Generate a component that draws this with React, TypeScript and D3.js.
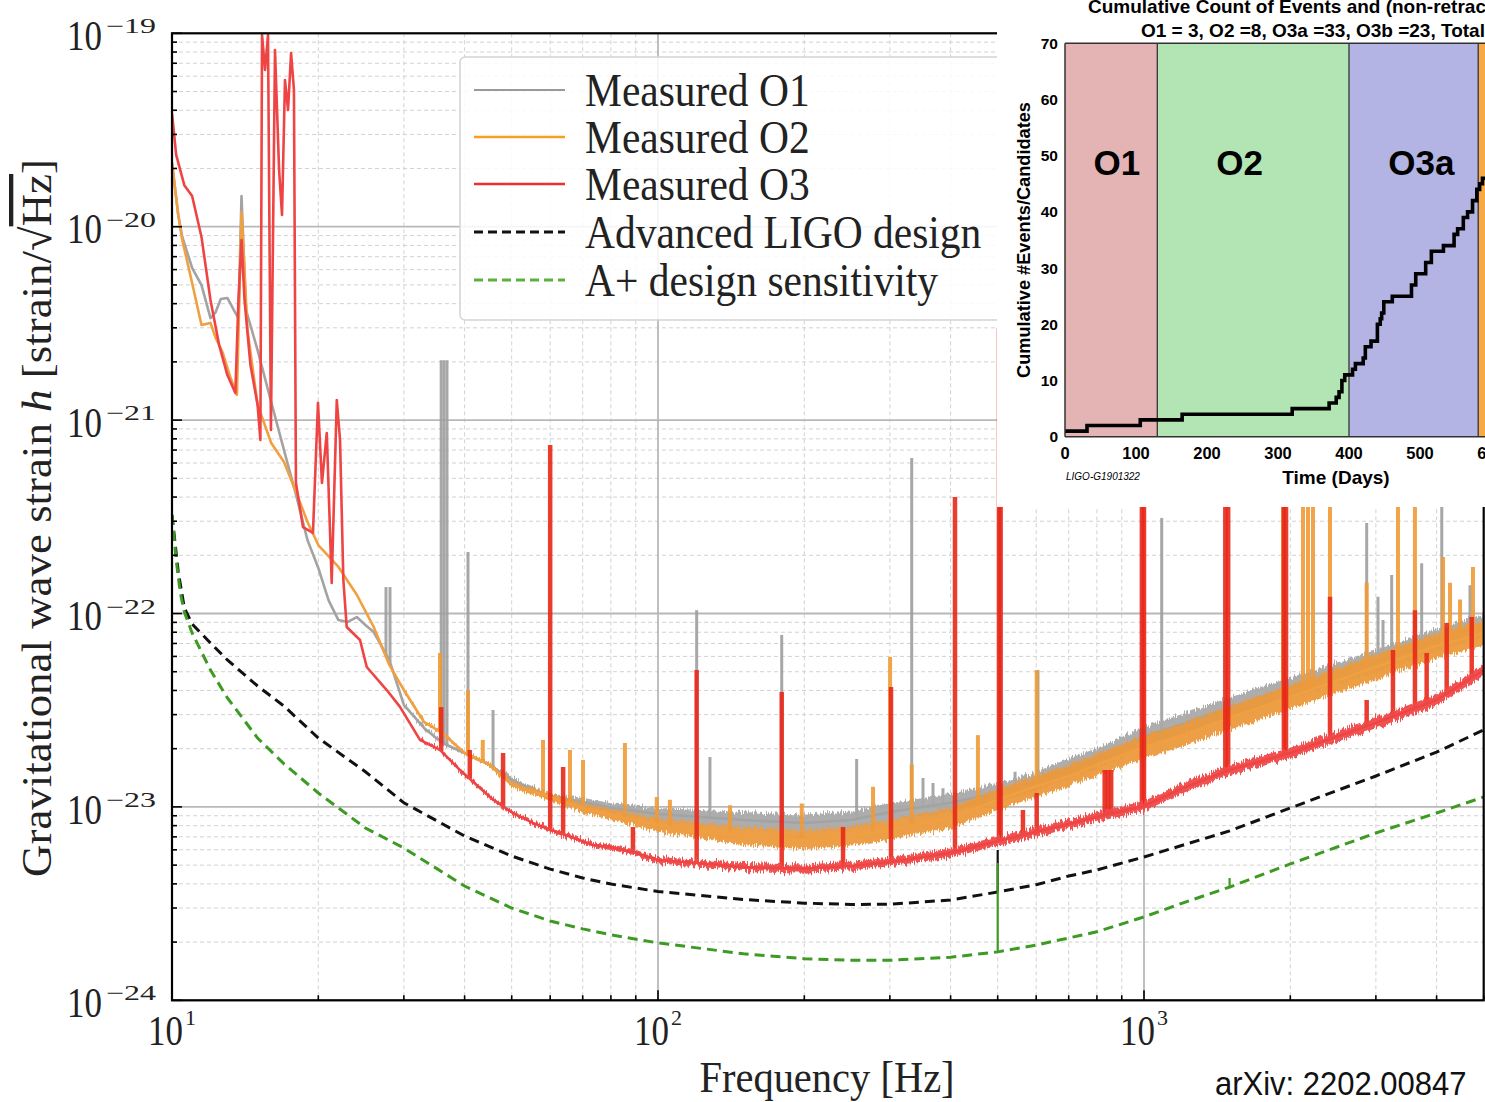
import React from 'react';
import * as d3 from 'd3';

type P = [number, number];

// ---------- main chart data: [frequency Hz, strain 1/sqrt(Hz)] ----------
const O1_BASE: P[] = [
  [10, 2.14e-20], [10.3, 1.15e-20], [10.5, 8.85e-21], [11, 6.12e-21], [11.5, 4.99e-21], [12, 3.37e-21],
  [12.3, 3.62e-21], [12.6, 4.23e-21], [13, 4.28e-21], [13.4, 3.71e-21], [13.7, 3.37e-21], [13.9, 1.44e-20],
  [14.2, 3.71e-21], [15, 2.3e-21], [16, 1.24e-21], [17, 7.0e-22], [18, 4.1e-22], [19, 2.4e-22], [20, 1.72e-22],
  [21, 1.17e-22], [22, 9.25e-23], [23, 9.04e-23], [24, 9.59e-23], [25, 8.72e-23], [26, 8.02e-23], [28, 5.75e-23],
  [30, 3.37e-23], [33, 2.56e-23], [36, 2.14e-23], [40, 1.9e-23], [45, 1.65e-23], [50, 1.38e-23], [60, 1.125e-23],
  [70, 1.06e-23], [80, 9.87e-24], [100, 9.19e-24], [150, 8.56e-24], [200, 8.26e-24], [250, 8.56e-24],
  [300, 9.41e-24], [400, 1.05e-23], [500, 1.18e-23], [600, 1.36e-23], [700, 1.59e-23], [800, 1.79e-23],
  [1000, 2.3e-23], [1200, 2.68e-23], [1500, 3.25e-23], [2000, 4.12e-23], [3000, 5.68e-23], [4000, 7.29e-23],
  [5000, 8.72e-23],
];
const O2_BASE: P[] = [
  [10, 2.14e-20], [10.3, 1.15e-20], [10.5, 8.54e-21], [11, 5.12e-21], [11.5, 3.1e-21], [12, 3.18e-21],
  [12.3, 2.66e-21], [12.7, 2.25e-21], [13.2, 1.65e-21], [13.6, 1.35e-21], [13.9, 1.19e-20], [14.3, 2.92e-21],
  [15, 1.2e-21], [16, 7.61e-22], [17, 6.07e-22], [18, 4.25e-22], [19, 2.97e-22], [20, 2.26e-22], [22, 1.74e-22],
  [24, 1.25e-22], [26, 8.52e-23], [28, 5.42e-23], [30, 4.02e-23], [33, 2.75e-23], [36, 2.41e-23], [40, 1.9e-23],
  [45, 1.65e-23], [50, 1.3e-23], [60, 1.125e-23], [70, 9.87e-24], [80, 9.08e-24], [100, 8.06e-24],
  [150, 7.07e-24], [200, 6.74e-24], [250, 7.07e-24], [300, 7.6e-24], [400, 8.76e-24], [500, 1.09e-23],
  [600, 1.28e-23], [700, 1.44e-23], [800, 1.65e-23], [1000, 2.04e-23], [1200, 2.35e-23], [1500, 2.88e-23],
  [2000, 3.7e-23], [3000, 5.29e-23], [4000, 6.79e-23], [5000, 7.93e-23],
];
const O3_BASE: P[] = [
  [10, 3.87e-20], [10.2, 2.35e-20], [10.6, 1.64e-20], [11, 1.44e-20], [11.5, 8.85e-21], [12, 4.18e-21],
  [12.5, 2.45e-21], [13, 1.71e-21], [13.5, 1.38e-21], [13.7, 4.18e-21], [13.9, 8.54e-21], [14.1, 4.18e-21],
  [14.5, 1.93e-21], [15, 1.2e-21], [15.2, 7.89e-22], [15.32, 9.8e-20], [15.54, 6.46e-20], [15.76, 9.8e-20],
  [15.98, 8.89e-22], [16.29, 8.2e-20], [16.61, 1.96e-20], [16.84, 1.15e-20], [17.08, 5.73e-20], [17.33, 4.01e-20],
  [17.58, 7.91e-20], [17.82, 5.09e-20], [17.99, 4.73e-22], [18.6, 2.8e-22], [19.5, 2.61e-22], [19.97, 1.23e-21],
  [20.35, 4.73e-22], [20.82, 8.58e-22], [21.31, 1.44e-22], [21.83, 1.27e-21], [22.17, 7.89e-22], [22.52, 1.49e-22],
  [22.88, 8.52e-23], [24.37, 7.29e-23], [25.16, 5.29e-23], [27.66, 4.02e-23], [29.45, 3.29e-23], [32.38, 2.22e-23],
  [35.6, 1.97e-23], [39.14, 1.55e-23], [45.77, 1.09e-23], [50.3, 9.3e-24], [55.3, 8.26e-24], [58, 7.87e-24],
  [62.9, 7.33e-24], [73.5, 6.35e-24], [79.6, 6.2e-24], [88.8, 5.85e-24], [100, 5.31e-24], [120, 5.13e-24],
  [150, 4.89e-24], [200, 4.8e-24], [250, 4.95e-24], [300, 5.19e-24], [400, 5.78e-24], [500, 6.66e-24],
  [600, 7.42e-24], [700, 8.16e-24], [800, 8.87e-24], [1000, 1.01e-23], [1200, 1.25e-23], [1500, 1.55e-23],
  [2000, 1.9e-23], [3000, 2.72e-23], [4000, 3.57e-23], [5000, 5.1e-23],
];
// narrow lines: [frequency, peak strain]
const O1_SPIKES: P[] = [
  [27.56, 1.37e-22], [28.09, 1.37e-22], [35.8, 2.04e-21], [36.28, 2.04e-21], [36.8, 2.04e-21], [40.65, 2.08e-22],
  [45.77, 3.17e-23], [120.1, 1.04e-22], [127.9, 1.81e-23], [179.7, 7.74e-23], [256.3, 1.77e-23], [332.7, 6.37e-22],
  [351, 1.41e-23], [368, 1.33e-23], [385.8, 1.25e-23], [542.8, 1.52e-23], [605.2, 5.1e-23], [1087.5, 3.12e-22],
  [2872, 2.94e-22], [3030, 1.22e-22], [3103, 9.26e-23], [3233, 1.58e-22], [3727, 1.82e-22], [4099, 1e-21],
  [4686, 1.4e-22],
];
const O2_SPIKES: P[] = [
  [35.6, 6.25e-23], [40.65, 4.02e-23], [43.6, 2.22e-23], [58, 2.22e-23], [65.9, 1.97e-23], [70.1, 1.75e-23],
  [85.5, 2.14e-23], [99.4, 1.125e-23], [105.8, 1.09e-23], [140.7, 1.02e-23], [197.6, 1.04e-23], [277, 1.27e-23],
  [300.3, 5.96e-23], [332.7, 1.65e-23], [455.3, 2.35e-23], [601.5, 5.1e-23], [1932, 3e-21], [2124, 3e-21],
  [2175, 3e-21], [2227, 3e-21], [2414, 3e-21], [2872, 1.44e-22], [3331, 3e-21], [3610, 3e-21], [4124, 1.96e-22],
  [4263, 1.44e-22], [4470, 1.18e-22], [4753, 1.74e-22],
];
const O3_SPIKES: P[] = [
  [35.8, 3.28e-23], [41, 1.97e-23], [48, 1.9e-23], [60, 7.43e-22], [63.8, 1.61e-23], [88.8, 7.87e-24],
  [120.1, 5.1e-23], [179.7, 3.93e-23], [240.3, 7.87e-24], [301.6, 4.17e-23], [408.4, 4.0e-22], [503, 3e-21],
  [507, 3e-21], [563.6, 9.64e-24], [601.5, 1.18e-23], [830, 1.55e-23], [843.3, 1.55e-23], [856, 1.55e-23],
  [990, 3e-21], [1000, 3e-21], [1470, 3e-21], [1490, 3e-21], [1940, 3e-21], [1960, 3e-21], [2414, 1.22e-22],
  [2872, 3.57e-23], [3253, 6.48e-23], [3610, 1.04e-22], [3816, 6.25e-23], [4196, 8.93e-23], [4724, 9.59e-23],
];
const ALIGO: P[] = [
  [10, 3.23e-22], [10.3, 1.64e-22], [10.6, 1.07e-22], [11, 8.82e-23], [12, 7.04e-23], [13, 5.75e-23],
  [15, 4.22e-23], [17, 3.32e-23], [20, 2.27e-23], [25, 1.52e-23], [30, 1.05e-23], [40, 7.07e-24], [50, 5.57e-24],
  [60, 4.77e-24], [70, 4.29e-24], [80, 3.99e-24], [100, 3.65e-24], [150, 3.32e-24], [200, 3.18e-24],
  [250, 3.13e-24], [300, 3.14e-24], [400, 3.3e-24], [500, 3.63e-24], [600, 3.96e-24], [700, 4.39e-24],
  [800, 4.72e-24], [1000, 5.51e-24], [1500, 7.51e-24], [2000, 9.87e-24], [3000, 1.445e-23], [4000, 1.92e-23],
  [5000, 2.5e-23],
];
const ALIGO_SPIKES: P[] = [[500, 5.98e-24]];
const APLUS: P[] = [
  [10, 3.23e-22], [10.2, 1.89e-22], [10.4, 1.28e-22], [10.6, 1.02e-22], [11, 7.93e-23], [12, 5.1e-23],
  [13, 3.66e-23], [15, 2.27e-23], [17, 1.67e-23], [20, 1.18e-23], [25, 7.78e-24], [30, 6.13e-24], [40, 3.9e-24],
  [50, 3.0e-24], [60, 2.57e-24], [70, 2.34e-24], [80, 2.18e-24], [100, 1.98e-24], [150, 1.74e-24],
  [200, 1.64e-24], [250, 1.61e-24], [300, 1.61e-24], [400, 1.67e-24], [500, 1.78e-24], [600, 1.93e-24],
  [700, 2.1e-24], [800, 2.26e-24], [1000, 2.7e-24], [1200, 3.18e-24], [1500, 3.85e-24], [2000, 5.07e-24],
  [3000, 7.33e-24], [4000, 9.3e-24], [5000, 1.125e-23],
];
const APLUS_SPIKES: P[] = [[500, 5.13e-24], [1500, 4.29e-24]];

const LEGEND_LABELS = ['Measured O1', 'Measured O2', 'Measured O3', 'Advanced LIGO design', 'A+ design sensitivity'];
const X_DECADE_EXP = [1, 2, 3];
const Y_DECADE_EXP = [-19, -20, -21, -22, -23, -24];

// ---------- inset data ----------
const EVENT_DAYS = [0, 31, 106, 165, 320, 372, 382, 386, 390, 394, 405, 409, 420, 423, 431, 440, 444, 446, 449, 461, 488, 494, 508, 516, 533, 548, 553, 561, 567, 574, 580, 584, 588, 592];
const EVENT_COUNTS = [1, 2, 3, 4, 5, 6, 7, 8, 10, 11, 12, 13, 14, 16, 17, 20, 21, 22, 24, 25, 27, 29, 31, 33, 34, 36, 37, 39, 40, 42, 44, 45, 46, 46];
const RUN_NAMES = ['O1', 'O2', 'O3a', 'O3b'];
const RUN_START = [0, 130, 400, 582];
const RUN_END = [130, 400, 582, 700];
const RUN_LABEL_DAY = [73, 246, 502];
const INSET_X_TICKS = [0, 100, 200, 300, 400, 500, 600];
const INSET_Y_TICKS = [0, 10, 20, 30, 40, 50, 60, 70];
const INSET_TITLE_1 = 'Cumulative Count of Events and (non-retracted) Candidates';
const INSET_TITLE_2 = 'O1 = 3, O2 =8, O3a =33, O3b =23, Total =67';

const RUN_COLORS = ['#e4b3b3', '#b3e4b3', '#b3b3e4', '#f6a945'];

const SERIF = '"Liberation Serif", "Times New Roman", serif';
const SANS = '"Liberation Sans", Arial, sans-serif';

function interpLogLog(series: P[], f: number): number {
  const i = d3.bisector((d: P) => d[0]).right(series, f);
  if (i <= 0) return series[0][1];
  if (i >= series.length) return series[series.length - 1][1];
  const [f0, h0] = series[i - 1];
  const [f1, h1] = series[i];
  const t = (Math.log(f) - Math.log(f0)) / (Math.log(f1) - Math.log(f0));
  return Math.exp(Math.log(h0) + t * (Math.log(h1) - Math.log(h0)));
}

function bandWidth(f: number, w0: number, w1: number, w2: number) {
  const lf = Math.log10(f);
  const a = Math.log10(40), b = Math.log10(150), c = Math.log10(3000);
  if (lf <= a) return w0;
  if (lf <= b) return w0 + ((w1 - w0) * (lf - a)) / (b - a);
  return w1 + (w2 - w1) * Math.min(1, (lf - b) / (c - b));
}

export default function App() {
  const L = 172, R = 1483.7, T = 33.3, B = 1000.3;
  const x = d3.scaleLog().domain([10, 5000]).range([L, R]);
  const y = d3.scaleLog().domain([1e-24, 1e-19]).range([B, T]);

  const xt = x.ticks();
  const yt = y.ticks();
  const isDecade = (v: number) => Math.abs(Math.log10(v) - Math.round(Math.log10(v))) < 1e-6;

  const line = d3.line<P>().x((d) => x(d[0])).y((d) => y(d[1]));

  const measured = [
    { base: O1_BASE, spikes: O1_SPIKES, line: '#a3a3a3', band: '#a9a9a9', spike: '#9d9d9d', w: [2.6, 16, 22], sw: 3 },
    { base: O2_BASE, spikes: O2_SPIKES, line: '#f0a040', band: '#ec9a3c', spike: '#f09a35', w: [2.6, 18, 25], sw: 4 },
    { base: O3_BASE, spikes: O3_SPIKES, line: '#ef4444', band: '#f04848', spike: '#e8281a', w: [2.6, 8, 11], sw: 4.5 },
  ];

  const ix = d3.scaleLinear().domain([0, 600]).range([1065, 1491]);
  const iy = d3.scaleLinear().domain([0, 70]).range([436.7, 43.3]);
  const stepLine = d3
    .line<number>()
    .x((_, i) => ix(EVENT_DAYS[i]))
    .y((d) => iy(d))
    .curve(d3.curveStepAfter);

  const legendRows = [90, 137, 184, 232, 280];
  const legendStyles = [
    { stroke: '#9a9a9a', dash: undefined, w: 2.2 },
    { stroke: '#f5a020', dash: undefined, w: 2.4 },
    { stroke: '#ee3030', dash: undefined, w: 2.6 },
    { stroke: '#111', dash: '9,5', w: 3 },
    { stroke: '#5cb040', dash: '9,5', w: 3 },
  ];

  return (
    <div style={{ position: 'absolute', left: 0, top: 0, width: 1485, height: 1102 }}>
      <svg width={1485} height={1102} style={{ display: 'block', background: '#fff' }}>
        <defs>
          <clipPath id="plotClip">
            <rect x={L} y={T} width={R - L} height={B - T} />
          </clipPath>
          <clipPath id="insetClip">
            <rect x={1065} y={43.3} width={430} height={436.7 - 43.3} />
          </clipPath>
          <filter id="jag" filterUnits="userSpaceOnUse" x={0} y={0} width={1485} height={1102}>
            <feTurbulence type="fractalNoise" baseFrequency="0.9 0.02" numOctaves={2} seed={5} result="n" />
            <feColorMatrix
              in="n"
              type="matrix"
              values="0 0 0 0 0.5  0 1 0 0 0  0 0 1 0 0  0 0 0 0 1"
              result="m"
            />
            <feDisplacementMap in="SourceGraphic" in2="m" scale={11} xChannelSelector="R" yChannelSelector="G" />
          </filter>
        </defs>

        {/* grid */}
        <g>
          {xt.filter((v) => !isDecade(v) && v < 5000).map((v, i) => (
            <line key={'gx' + i} x1={x(v)} x2={x(v)} y1={T} y2={B} stroke="#d2d2d2" strokeWidth={1} strokeDasharray="4,3" />
          ))}
          {yt.filter((v) => !isDecade(v)).map((v, i) => (
            <line key={'gy' + i} x1={L} x2={R} y1={y(v)} y2={y(v)} stroke="#d2d2d2" strokeWidth={1} strokeDasharray="4,3" />
          ))}
          {xt.filter((v) => isDecade(v) && v > 10).map((v, i) => (
            <line key={'Gx' + i} x1={x(v)} x2={x(v)} y1={T} y2={B} stroke="#b8b8b8" strokeWidth={1.8} />
          ))}
          {yt.filter((v) => isDecade(v) && v < 1e-19 && v > 1e-24).map((v, i) => (
            <line key={'Gy' + i} x1={L} x2={R} y1={y(v)} y2={y(v)} stroke="#b8b8b8" strokeWidth={1.8} />
          ))}
        </g>

        {/* measured curves */}
        <g clipPath="url(#plotClip)">
          {measured.map((s, k) => {
            const bandPts = s.base.filter((d) => d[0] >= 30);
            const area = d3
              .area<P>()
              .x((d) => x(d[0]))
              .y0((d) => y(d[1]) + bandWidth(d[0], s.w[0], s.w[1], s.w[2]) / 2)
              .y1((d) => y(d[1]) - bandWidth(d[0], s.w[0], s.w[1], s.w[2]) / 2)(bandPts) as string;
            return (
              <g key={'m' + k}>
                {s.spikes.map((sp, j) => (
                  <line
                    key={j}
                    x1={x(sp[0])}
                    x2={x(sp[0])}
                    y1={y(interpLogLog(s.base, sp[0]))}
                    y2={y(sp[1])}
                    stroke={s.spike}
                    strokeWidth={s.sw}
                    strokeOpacity={0.9}
                  />
                ))}
                <path d={area} fill={s.band} filter="url(#jag)" opacity={0.95} />
                <path d={line(s.base) as string} fill="none" stroke={s.line} strokeWidth={2.6} strokeLinejoin="round" />
              </g>
            );
          })}
          {/* design curves */}
          {ALIGO_SPIKES.map((sp, j) => (
            <line key={'as' + j} x1={x(sp[0])} x2={x(sp[0])} y1={y(interpLogLog(ALIGO, sp[0]))} y2={y(sp[1])} stroke="#111" strokeWidth={2.2} />
          ))}
          <path d={line(ALIGO) as string} fill="none" stroke="#111" strokeWidth={3} strokeDasharray="10,6" />
          {APLUS_SPIKES.map((sp, j) => (
            <line key={'ps' + j} x1={x(sp[0])} x2={x(sp[0])} y1={y(interpLogLog(APLUS, sp[0]))} y2={y(sp[1])} stroke="#3d9a22" strokeWidth={2.2} />
          ))}
          <path d={line(APLUS) as string} fill="none" stroke="#3d9a22" strokeWidth={3} strokeDasharray="10,6" />
        </g>

        {/* spines */}
        <rect x={L} y={T} width={R - L} height={B - T} fill="none" stroke="#000" strokeWidth={2.2} />

        {/* ticks */}
        {yt.map((v, i) => (
          <line key={'ty' + i} x1={L} x2={L + (isDecade(v) ? 10 : 5)} y1={y(v)} y2={y(v)} stroke="#000" strokeWidth={1.6} />
        ))}
        {xt.map((v, i) => (
          <line key={'tx' + i} x1={x(v)} x2={x(v)} y1={B} y2={B - (isDecade(v) ? 10 : 5)} stroke="#000" strokeWidth={1.6} />
        ))}

        {/* y tick labels */}
        {Y_DECADE_EXP.map((e) => {
          const yy = y(Math.pow(10, e));
          return (
            <g key={'yl' + e} fill="#222" fontFamily={SERIF}>
              <g transform={`translate(102,${yy + 16.7}) scale(1,1.2)`}>
                <text textAnchor="end" fontSize={35}>10</text>
              </g>
              <text x={106} y={yy} fontSize={21} textLength={50} lengthAdjust="spacingAndGlyphs">{'\u2212' + Math.abs(e)}</text>
            </g>
          );
        })}
        {/* x tick labels */}
        {X_DECADE_EXP.map((e) => {
          const xx = x(Math.pow(10, e));
          return (
            <g key={'xl' + e} fill="#222" fontFamily={SERIF}>
              <g transform={`translate(${xx + 11},1045) scale(1,1.2)`}>
                <text textAnchor="end" fontSize={35}>10</text>
              </g>
              <text x={xx + 13} y={1025} fontSize={22}>{String(e)}</text>
            </g>
          );
        })}

        {/* axis labels */}
        <g transform="translate(827,1092) scale(1,1.12)">
          <text textAnchor="middle" fontFamily={SERIF} fontSize={40.5} fill="#222">Frequency [Hz]</text>
        </g>
        <text
          transform="translate(51,518) rotate(-90)"
          textAnchor="middle"
          fontFamily={SERIF}
          fontSize={43}
          fill="#222"
          textLength={718}
          lengthAdjust="spacingAndGlyphs"
        >
          Gravitational wave strain <tspan fontStyle="italic">h</tspan> [strain/√<tspan style={{ textDecoration: 'overline' }}>Hz</tspan>]
        </text>

        {/* legend */}
        <rect x={460} y={57} width={600} height={263} rx={5} fill="#fff" fillOpacity={0.85} stroke="#d4d4d4" strokeWidth={1.5} />
        {LEGEND_LABELS.map((lab, i) => (
          <g key={'lg' + i}>
            <line x1={474} x2={565} y1={legendRows[i]} y2={legendRows[i]} stroke={legendStyles[i].stroke} strokeWidth={legendStyles[i].w} strokeDasharray={legendStyles[i].dash} />
            <g transform={`translate(585,${legendRows[i] + 16}) scale(1,1.12)`}>
              <text fontFamily={SERIF} fontSize={41.5} fill="#222">{lab}</text>
            </g>
          </g>
        ))}

        <g transform="translate(1215,1095) scale(1,1.08)">
          <text fontFamily={SANS} fontSize={31} fill="#111">arXiv: 2202.00847</text>
        </g>

        {/* ---------- inset ---------- */}
        <rect x={997} y={0} width={488} height={507} fill="#fff" />
        <g clipPath="url(#insetClip)">
          {RUN_NAMES.map((n, i) => (
            <rect key={'run' + n} x={ix(RUN_START[i])} y={43.3} width={ix(RUN_END[i]) - ix(RUN_START[i])} height={436.7 - 43.3} fill={RUN_COLORS[i]} />
          ))}
          {RUN_START.slice(1).map((d, i) => (
            <line key={'sep' + i} x1={ix(d)} x2={ix(d)} y1={43.3} y2={436.7} stroke="#333" strokeWidth={1.3} />
          ))}
          <path d={stepLine(EVENT_COUNTS) as string} fill="none" stroke="#000" strokeWidth={3.6} />
        </g>
        <line x1={1065} x2={1485} y1={43.3} y2={43.3} stroke="#333" strokeWidth={1.5} />
        <line x1={1065} x2={1485} y1={436.7} y2={436.7} stroke="#333" strokeWidth={1.5} />
        <line x1={1065} x2={1065} y1={43.3} y2={436.7} stroke="#333" strokeWidth={1.5} />
        {RUN_LABEL_DAY.map((d, i) => (
          <text key={'rl' + i} x={ix(d)} y={175} textAnchor="middle" fontFamily={SANS} fontWeight="bold" fontSize={35} fill="#000">{RUN_NAMES[i]}</text>
        ))}
        {INSET_Y_TICKS.map((v) => (
          <text key={'iy' + v} x={1058} y={iy(v) + 5.5} textAnchor="end" fontFamily={SANS} fontWeight="bold" fontSize={15.5} fill="#000">{v}</text>
        ))}
        {INSET_X_TICKS.map((v) => (
          <text key={'ix' + v} x={ix(v)} y={459} textAnchor="middle" fontFamily={SANS} fontWeight="bold" fontSize={16.5} fill="#000">{v}</text>
        ))}
        <text transform="translate(1030,240) rotate(-90)" textAnchor="middle" fontFamily={SANS} fontWeight="bold" fontSize={18} textLength={276} lengthAdjust="spacingAndGlyphs" fill="#000">
          Cumulative #Events/Candidates
        </text>
        <text x={1336} y={484} textAnchor="middle" fontFamily={SANS} fontWeight="bold" fontSize={19} fill="#000">Time (Days)</text>
        <text x={1066} y={480} fontFamily={SANS} fontStyle="italic" fontSize={10} fill="#000">LIGO-G1901322</text>
        <text x={1088} y={13} fontFamily={SANS} fontWeight="bold" fontSize={19} fill="#000">{INSET_TITLE_1}</text>
        <text x={1141} y={36.5} fontFamily={SANS} fontWeight="bold" fontSize={19} fill="#000">{INSET_TITLE_2}</text>
      </svg>
    </div>
  );
}
